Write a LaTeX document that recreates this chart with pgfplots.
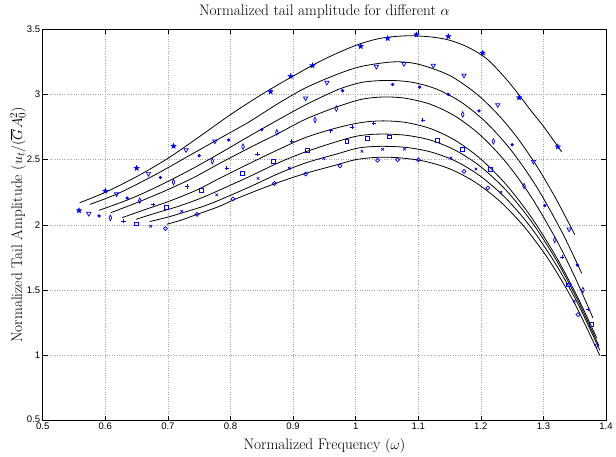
\documentclass[border=0pt]{standalone}
\usepackage{pgfplots}
\pgfplotsset{compat=1.18}
\usepackage{fontspec}
\newfontfamily\ticksf{Liberation Sans}
\usetikzlibrary{plotmarks}
\pgfdeclareplotmark{pentagram}{%
  \pgfpathmoveto{\pgfpointpolar{90}{\pgfplotmarksize}}%
  \pgfpathlineto{\pgfpointpolar{126}{0.42\pgfplotmarksize}}%
  \pgfpathlineto{\pgfpointpolar{162}{\pgfplotmarksize}}%
  \pgfpathlineto{\pgfpointpolar{198}{0.42\pgfplotmarksize}}%
  \pgfpathlineto{\pgfpointpolar{234}{\pgfplotmarksize}}%
  \pgfpathlineto{\pgfpointpolar{270}{0.42\pgfplotmarksize}}%
  \pgfpathlineto{\pgfpointpolar{306}{\pgfplotmarksize}}%
  \pgfpathlineto{\pgfpointpolar{342}{0.42\pgfplotmarksize}}%
  \pgfpathlineto{\pgfpointpolar{18}{\pgfplotmarksize}}%
  \pgfpathlineto{\pgfpointpolar{54}{0.42\pgfplotmarksize}}%
  \pgfpathclose
  \pgfusepathqfillstroke}
\definecolor{mblue}{rgb}{0,0,1}
\begin{document}
\begin{tikzpicture}
\begin{axis}[name=ax, scale only axis, width=567pt, height=394.2pt,
  xmin=0.5, xmax=1.4, ymin=0.5, ymax=3.5,
  xtick={0.5,0.6,0.7,0.8,0.9,1,1.1,1.2,1.3,1.4},
  xticklabels={0.5,0.6,0.7,0.8,0.9,1,1.1,1.2,1.3,1.4},
  ytick={0.5,1,1.5,2,2.5,3,3.5},
  yticklabels={\raisebox{3pt}{0.5},1,1.5,2,2.5,3,3.5},
  tick align=inside, major tick length=5pt,
  grid=major, major grid style={dotted, black!35, line width=0.7pt},
  axis line style={line width=1pt},
  tick style={black, line width=0.7pt},
  ticklabel style={font=\ticksf\fontsize{9.6}{10}\selectfont},
  xticklabel style={yshift=1pt},
  yticklabel style={xshift=1pt},
  clip=false,
  curve/.style={black, line width=0.8pt, smooth, no marks},
  dat/.style={only marks, draw=mblue, fill=mblue, line width=0.7pt, mark size=2pt},
]
% ---- fitted curves ----
\addplot[curve] coordinates {(0.559,2.17) (0.60,2.25) (0.65,2.37) (0.70,2.51) (0.75,2.675) (0.80,2.845) (0.85,3.00) (0.90,3.14) (0.95,3.27) (1.00,3.375) (1.04,3.43) (1.083,3.449) (1.12,3.44) (1.15,3.415) (1.18,3.36) (1.21,3.27) (1.24,3.12) (1.261,2.995) (1.28,2.875) (1.30,2.755) (1.329,2.56)};
\addplot[curve] coordinates {(0.575,2.157) (0.62,2.24) (0.678,2.38) (0.73,2.52) (0.781,2.658) (0.83,2.79) (0.876,2.93) (0.92,3.05) (0.971,3.155) (1.01,3.215) (1.061,3.249) (1.10,3.231) (1.15,3.145) (1.194,3.0) (1.23,2.832) (1.26,2.656) (1.29,2.445) (1.32,2.20) (1.35,1.925)};
\addplot[curve] coordinates {(0.590,2.112) (0.64,2.20) (0.686,2.30) (0.735,2.42) (0.781,2.543) (0.83,2.68) (0.876,2.805) (0.92,2.92) (0.971,3.035) (1.01,3.092) (1.051,3.107) (1.09,3.093) (1.13,3.039) (1.17,2.936) (1.21,2.778) (1.25,2.562) (1.29,2.284) (1.33,1.941) (1.361,1.63)};
\addplot[curve] coordinates {(0.609,2.094) (0.65,2.17) (0.695,2.26) (0.74,2.36) (0.781,2.467) (0.83,2.59) (0.876,2.70) (0.92,2.81) (0.971,2.906) (1.01,2.963) (1.045,2.98) (1.08,2.970) (1.12,2.923) (1.16,2.830) (1.20,2.684) (1.24,2.481) (1.28,2.218) (1.32,1.891) (1.35,1.603) (1.379,1.288)};
\addplot[curve] coordinates {(0.627,2.056) (0.665,2.12) (0.704,2.185) (0.745,2.265) (0.781,2.353) (0.83,2.47) (0.876,2.576) (0.92,2.67) (0.971,2.745) (1.01,2.785) (1.043,2.797) (1.08,2.785) (1.12,2.737) (1.16,2.645) (1.20,2.504) (1.24,2.311) (1.28,2.063) (1.32,1.758) (1.355,1.442) (1.385,1.135)};
\addplot[curve] coordinates {(0.649,2.043) (0.68,2.09) (0.715,2.14) (0.75,2.20) (0.781,2.264) (0.83,2.37) (0.876,2.475) (0.92,2.56) (0.971,2.64) (1.005,2.683) (1.04,2.696) (1.08,2.687) (1.12,2.649) (1.16,2.570) (1.20,2.445) (1.24,2.267) (1.28,2.032) (1.32,1.735) (1.355,1.421) (1.388,1.08)};
\addplot[curve] coordinates {(0.671,2.026) (0.70,2.06) (0.726,2.097) (0.755,2.14) (0.781,2.188) (0.83,2.29) (0.876,2.392) (0.92,2.475) (0.971,2.545) (1.005,2.59) (1.04,2.602) (1.08,2.594) (1.12,2.559) (1.16,2.488) (1.20,2.371) (1.24,2.204) (1.28,1.981) (1.32,1.697) (1.355,1.396) (1.39,1.04)};
\addplot[curve] coordinates {(0.698,2.005) (0.72,2.035) (0.746,2.08) (0.781,2.14) (0.804,2.19) (0.84,2.26) (0.876,2.325) (0.92,2.395) (0.971,2.462) (1.0,2.50) (1.035,2.518) (1.07,2.514) (1.11,2.488) (1.15,2.430) (1.19,2.330) (1.23,2.183) (1.27,1.982) (1.31,1.722) (1.35,1.397) (1.39,1.0)};
% ---- data markers ----
\addplot[dat, mark=pentagram, mark size=2.9pt, line width=0.3pt] coordinates {(0.558,2.110) (0.600,2.260) (0.650,2.435) (0.709,2.604) (0.864,3.021) (0.896,3.139) (0.931,3.221) (1.008,3.368) (1.051,3.429) (1.097,3.457) (1.148,3.444) (1.203,3.317) (1.261,2.975) (1.323,2.599)};
\addplot[dat, mark=triangle, mark size=2.5pt, mark options={rotate=180, draw=mblue, fill=none}] coordinates {(0.5735,2.087) (0.618,2.237) (0.669,2.393) (0.729,2.574) (0.775,2.641) (0.920,2.970) (0.954,3.091) (1.033,3.213) (1.077,3.234) (1.124,3.221) (1.173,3.145) (1.227,2.919) (1.284,2.485) (1.341,1.967)};
\addplot[dat, mark=*, mark size=1.3pt] coordinates {(0.590,2.069) (0.635,2.206) (0.688,2.363) (0.750,2.530) (0.797,2.651) (0.850,2.730) (0.979,3.028) (1.059,3.076) (1.102,3.056) (1.148,3.000) (1.197,2.873) (1.250,2.614) (1.302,2.148) (1.354,1.693)};
\addplot[dat, mark=diamond, mark options={xscale=0.65, draw=mblue, fill=none}, mark size=2.8pt] coordinates {(0.608,2.054) (0.655,2.186) (0.709,2.328) (0.771,2.488) (0.820,2.599) (0.874,2.709) (0.935,2.804) (0.969,2.891) (1.171,2.846) (1.220,2.640) (1.269,2.298) (1.318,1.885) (1.363,1.501)};
\addplot[dat, mark=+, mark size=2.1pt] coordinates {(0.629,2.031) (0.676,2.155) (0.731,2.295) (0.794,2.437) (0.843,2.541) (0.898,2.640) (0.960,2.721) (0.994,2.751) (1.029,2.779) (1.107,2.804) (1.330,1.754) (1.371,1.356)};
\addplot[dat, mark=square, mark options={draw=mblue, fill=none}, mark size=1.9pt] coordinates {(0.650,2.008) (0.698,2.132) (0.754,2.262) (0.819,2.395) (0.869,2.488) (0.923,2.570) (0.986,2.640) (1.019,2.664) (1.054,2.675) (1.130,2.648) (1.171,2.576) (1.215,2.428) (1.340,1.541) (1.377,1.237)};
\addplot[dat, mark=x, mark size=1.8pt] coordinates {(0.6725,1.990) (0.722,2.104) (0.778,2.231) (0.844,2.356) (0.894,2.435) (0.949,2.509) (1.010,2.564) (1.043,2.579) (1.078,2.581) (1.152,2.513) (1.192,2.429) (1.232,2.251) (1.349,1.415)};
\addplot[dat, mark=o, mark options={draw=mblue, fill=none}, mark size=2pt] coordinates {(0.696,1.973) (0.7465,2.081) (0.804,2.199) (0.870,2.317) (0.920,2.390) (0.975,2.452) (1.035,2.495) (1.067,2.500) (1.100,2.498) (1.173,2.410) (1.211,2.283) (1.355,1.313) (1.385,1.077)};
\end{axis}
\node[font=\fontsize{15.4}{17}\selectfont] at ([yshift=17.5pt]ax.north) {Normalized tail amplitude for different $\alpha$};
\node[font=\fontsize{15.4}{17}\selectfont] at ([yshift=-25.5pt]ax.south) {Normalized Frequency $(\omega)$};
\node[font=\fontsize{15.4}{17}\selectfont, rotate=90] at ([xshift=-25pt]ax.west) {Normalized Tail Amplitude $(u_t/(\overline{G}A_0^2)$};
\path ([xshift=-43pt,yshift=-34.5pt]ax.south west) rectangle ([xshift=6pt,yshift=29.3pt]ax.north east);
\end{tikzpicture}
\end{document}
